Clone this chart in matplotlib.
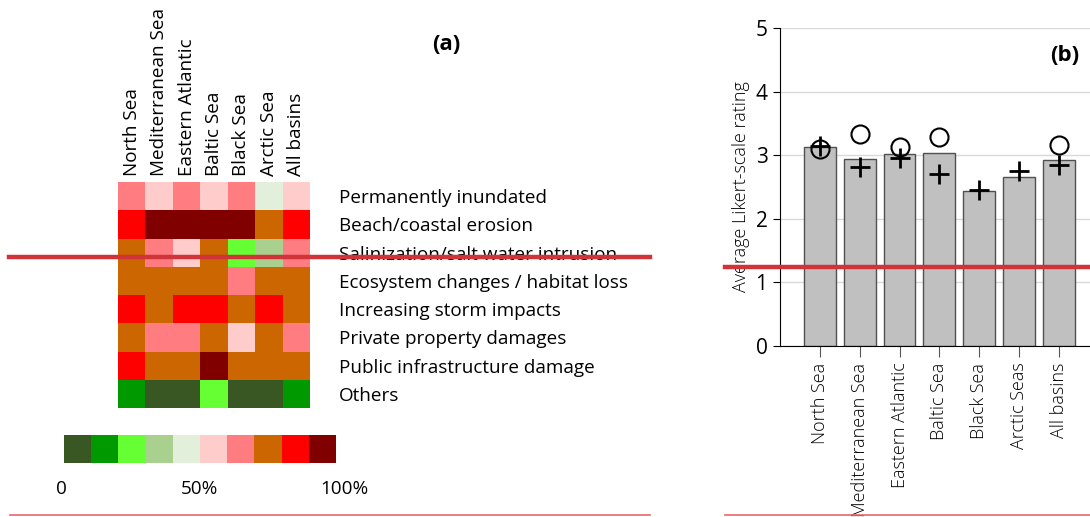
import matplotlib.pyplot as plt
import numpy as np
from matplotlib.colors import ListedColormap, BoundaryNorm
from matplotlib.lines import Line2D

plt.rcParams['font.family'] = ['Open Sans', 'DejaVu Sans']

# panel (a): share of respondents, binned in 10% steps
basins_a = ['North Sea', 'Mediterranean Sea', 'Eastern Atlantic', 'Baltic Sea',
            'Black Sea', 'Arctic Sea', 'All basins']
impacts = ['Permanently inundated', 'Beach/coastal erosion',
           'Salinization/salt water intrusion', 'Ecosystem changes / habitat loss',
           'Increasing storm impacts', 'Private property damages',
           'Public infrastructure damage', 'Others']
share = np.array([
    [65, 55, 65, 55, 65, 45, 55],
    [85, 95, 95, 95, 95, 75, 85],
    [75, 65, 55, 75, 25, 35, 65],
    [75, 75, 75, 75, 65, 75, 75],
    [85, 75, 85, 85, 75, 85, 75],
    [75, 65, 65, 75, 55, 75, 65],
    [85, 75, 75, 95, 75, 75, 75],
    [15, 5, 5, 25, 5, 5, 15],
])
palette = ['#385723', '#009900', '#66ff33', '#a9d08e', '#e2efda',
           '#ffcccc', '#ff7c80', '#cc6600', '#ff0000', '#800000']
key_ticks = [-1, 50, 103]
key_labels = ['0', '50%', '100%']

# panel (b): average Likert-scale rating
basins_b = ['North Sea', 'Mediterranean Sea', 'Eastern Atlantic', 'Baltic Sea',
            'Black Sea', 'Arctic Seas', 'All basins']
rating = [3.13, 2.94, 3.02, 3.03, 2.43, 2.65, 2.92]
circles = [3.09, 3.33, 3.13, 3.29, np.nan, np.nan, 3.16]
pluses = [3.15, 2.82, 2.96, 2.71, 2.46, 2.75, 2.84]

fig = plt.figure(figsize=(10.9, 5.17), dpi=100)

cmap = ListedColormap(palette)
norm = BoundaryNorm(np.arange(0, 101, 10), cmap.N)

ax = fig.add_axes([118/1090, 1-408/517, 192/1090, 226/517])
ax.pcolormesh(share, cmap=cmap, norm=norm)
ax.set_xticks(np.arange(7) + 0.5)
ax.set_xticklabels(basins_a, rotation=90, fontsize=13.6)
ax.xaxis.tick_top()
ax.set_yticks(np.arange(8) + 0.5)
ax.set_yticklabels(impacts, fontsize=13.6)
ax.yaxis.tick_right()
ax.set_xlim(0, 7); ax.set_ylim(8, 0)
ax.tick_params(length=0, pad=21, axis='y')
ax.tick_params(length=0, pad=4, axis='x')
for s in ax.spines.values():
    s.set_visible(False)
fig.text(446/1090, 1-45/517, '(a)', fontsize=16, fontweight='bold', ha='center', va='center')

# colour key
cax = fig.add_axes([64/1090, 1-463/517, 272/1090, 28/517])
cax.pcolormesh(np.arange(0, 101, 10), [0, 1], [np.arange(5, 100, 10)], cmap=cmap, norm=norm)
cax.set_xlim(0, 100); cax.set_ylim(0, 1)
cax.set_xticks([]); cax.set_yticks([])
for t, lab in zip(key_ticks, key_labels):
    cax.text(t, -0.6, lab, ha='center', va='top', fontsize=13.6, clip_on=False)
for s in cax.spines.values():
    s.set_visible(False)

# panel (b)
bx = fig.add_axes([780/1090, 1-346/517, 310/1090, 318/517])
x = np.arange(len(basins_b))
bx.bar(x, rating, width=0.8, color='#c0c0c0', edgecolor='#505050', linewidth=1, zorder=2)
bx.plot(x, circles, 'o', mfc='none', mec='black', ms=13, mew=1.5, zorder=3)
bx.plot(x, pluses, '+', color='black', ms=15, mew=2, zorder=3)
bx.set_xlim(-1, 6.78)
bx.set_ylim(0, 5)
bx.set_yticks(range(6))
bx.yaxis.grid(True, color='#d9d9d9', linewidth=1, zorder=0)
bx.set_axisbelow(True)
bx.set_xticks(x)
bx.set_xticklabels(basins_b, rotation=90, fontsize=13, fontweight='light')
bx.tick_params(axis='x', length=8, color='#555555', pad=4)
bx.tick_params(axis='y', labelsize=15, length=5, pad=4)
bx.set_ylabel('Average Likert-scale rating', fontsize=13, fontweight='light', labelpad=4)
bx.spines['top'].set_visible(False)
bx.spines['right'].set_visible(False)
bx.text(0.919, 0.915, '(b)', transform=bx.transAxes, fontsize=16, fontweight='bold',
        ha='center', va='center')

# red marker lines overlaid on the figure
def px_line(x0, x1, y, lw, color):
    fig.add_artist(Line2D([x0/1090, x1/1090], [1-y/517, 1-y/517],
                          transform=fig.transFigure, color=color, lw=lw, zorder=10))

px_line(9, 650, 257, 3.2, '#d13438')
px_line(725, 1090, 267, 3.2, '#d13438')
px_line(10, 650, 514.5, 1.2, '#e8686c')
px_line(725, 1090, 514.5, 1.2, '#e8686c')

fig.savefig('out.png', dpi=100)
